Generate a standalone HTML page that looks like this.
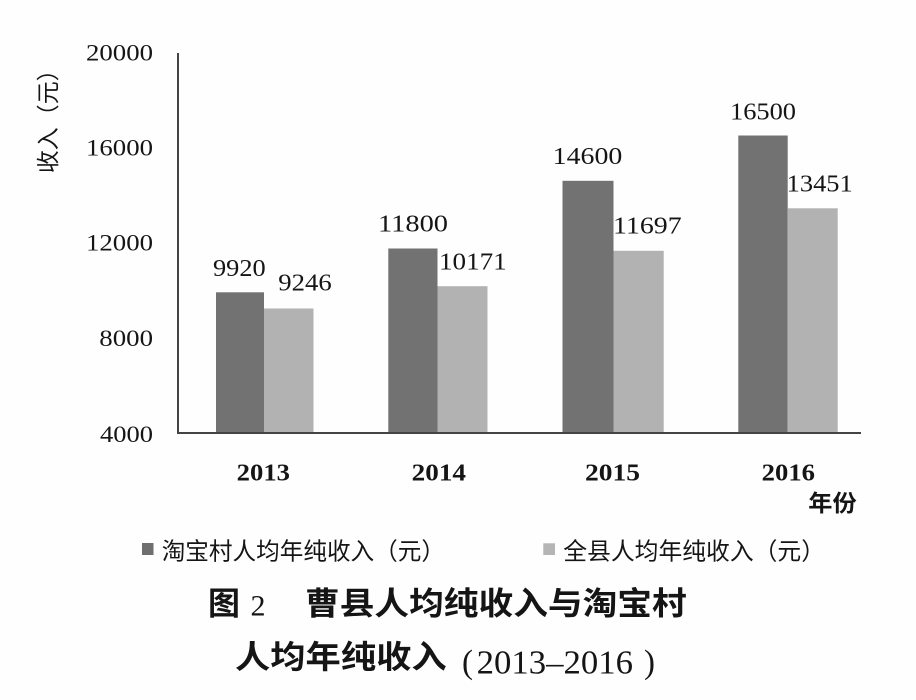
<!DOCTYPE html>
<html>
<head>
<meta charset="utf-8">
<style>
  html, body { margin: 0; padding: 0; background: #fefefe; }
  svg { display: block; }
  .serif { font-family: "Liberation Serif", "Noto Serif CJK SC", serif; fill: #151515; }
  .sans { font-family: "Liberation Sans", "Noto Sans CJK SC", sans-serif; fill: #151515; }
</style>
</head>
<body>
<svg width="916" height="700" viewBox="0 0 916 700" xmlns="http://www.w3.org/2000/svg">
  <rect x="0" y="0" width="916" height="700" fill="#fefefe"/>

  <!-- Bars -->
  <g>
    <rect x="216" y="292.3" width="48" height="140.7" fill="#727272"/>
    <rect x="264" y="308.5" width="49.5" height="124.5" fill="#b2b2b2"/>

    <rect x="388.3" y="248.5" width="49.2" height="184.5" fill="#727272"/>
    <rect x="437.5" y="286.2" width="50" height="146.8" fill="#b2b2b2"/>

    <rect x="562.5" y="180.8" width="51" height="252.2" fill="#727272"/>
    <rect x="613.5" y="250.8" width="50.2" height="182.2" fill="#b2b2b2"/>

    <rect x="738.3" y="135.5" width="49.4" height="297.5" fill="#727272"/>
    <rect x="787.7" y="208.3" width="50" height="224.7" fill="#b2b2b2"/>
  </g>

  <!-- Axes -->
  <line x1="178" y1="53" x2="178" y2="434" stroke="#444" stroke-width="2"/>
  <line x1="177" y1="433" x2="861" y2="433" stroke="#444" stroke-width="2"/>

  <!-- Y tick labels -->
  <g class="serif" font-size="23">
    <text x="86" y="60.7" textLength="67" lengthAdjust="spacingAndGlyphs">20000</text>
    <text x="86" y="155.7" textLength="67" lengthAdjust="spacingAndGlyphs">16000</text>
    <text x="86" y="250.5" textLength="67" lengthAdjust="spacingAndGlyphs">12000</text>
    <text x="99.3" y="346" textLength="53.7" lengthAdjust="spacingAndGlyphs">8000</text>
    <text x="100" y="442" textLength="53" lengthAdjust="spacingAndGlyphs">4000</text>
  </g>

  <!-- Y axis title -->
  <text class="sans" font-size="23" transform="translate(47.5,115.8) rotate(-90)" x="-57.5" y="8.5" textLength="115" lengthAdjust="spacingAndGlyphs">收入（元）</text>

  <!-- Data labels -->
  <g class="serif" font-size="24">
    <text x="213" y="276" textLength="52.7" lengthAdjust="spacingAndGlyphs">9920</text>
    <text x="278.3" y="290.7" textLength="53.4" lengthAdjust="spacingAndGlyphs">9246</text>
    <text x="378" y="231.7" textLength="70" lengthAdjust="spacingAndGlyphs">11800</text>
    <text x="439" y="269.3" textLength="67.7" lengthAdjust="spacingAndGlyphs">10171</text>
    <text x="552.7" y="164" textLength="69.6" lengthAdjust="spacingAndGlyphs">14600</text>
    <text x="613" y="233.3" textLength="68.7" lengthAdjust="spacingAndGlyphs">11697</text>
    <text x="730" y="119.3" textLength="66" lengthAdjust="spacingAndGlyphs">16500</text>
    <text x="786.7" y="191.7" textLength="66" lengthAdjust="spacingAndGlyphs">13451</text>
  </g>

  <!-- X labels -->
  <g class="serif" font-size="24" font-weight="bold">
    <text x="236.7" y="480.5" textLength="53.3" lengthAdjust="spacingAndGlyphs">2013</text>
    <text x="411.7" y="480.5" textLength="54.3" lengthAdjust="spacingAndGlyphs">2014</text>
    <text x="585" y="480.5" textLength="55" lengthAdjust="spacingAndGlyphs">2015</text>
    <text x="761.7" y="480.5" textLength="53.3" lengthAdjust="spacingAndGlyphs">2016</text>
  </g>

  <!-- X axis title -->
  <text class="sans" font-size="23" font-weight="bold" x="808.3" y="511" textLength="48.4" lengthAdjust="spacingAndGlyphs">年份</text>

  <!-- Legend -->
  <rect x="142" y="543" width="11.5" height="12" fill="#6f6f6f"/>
  <text class="sans" font-size="24" x="161.7" y="559.5" textLength="283.3" lengthAdjust="spacingAndGlyphs">淘宝村人均年纯收入（元）</text>
  <rect x="543.3" y="543.3" width="11.7" height="11.7" fill="#b5b5b5"/>
  <text class="sans" font-size="24" x="563.3" y="559.5" textLength="261.7" lengthAdjust="spacingAndGlyphs">全县人均年纯收入（元）</text>

  <!-- Title line 1 -->
  <text class="sans" font-size="32" font-weight="bold" x="208" y="614.5" textLength="32" lengthAdjust="spacingAndGlyphs">图</text>
  <text class="serif" font-size="30" x="250.5" y="615.5" textLength="15" lengthAdjust="spacingAndGlyphs">2</text>
  <text class="sans" font-size="32" font-weight="bold" x="305" y="614.5" textLength="381.7" lengthAdjust="spacingAndGlyphs">曹县人均纯收入与淘宝村</text>

  <!-- Title line 2 -->
  <text class="sans" font-size="32" font-weight="bold" x="235" y="668" textLength="211.7" lengthAdjust="spacingAndGlyphs">人均年纯收入</text>
  <text class="serif" font-size="34" x="462" y="673" textLength="11" lengthAdjust="spacingAndGlyphs">(</text>
  <text class="serif" font-size="34" x="476.7" y="673.3" textLength="156.3" lengthAdjust="spacingAndGlyphs">2013–2016</text>
  <text class="serif" font-size="34" x="644" y="673" textLength="11" lengthAdjust="spacingAndGlyphs">)</text>
</svg>
</body>
</html>
